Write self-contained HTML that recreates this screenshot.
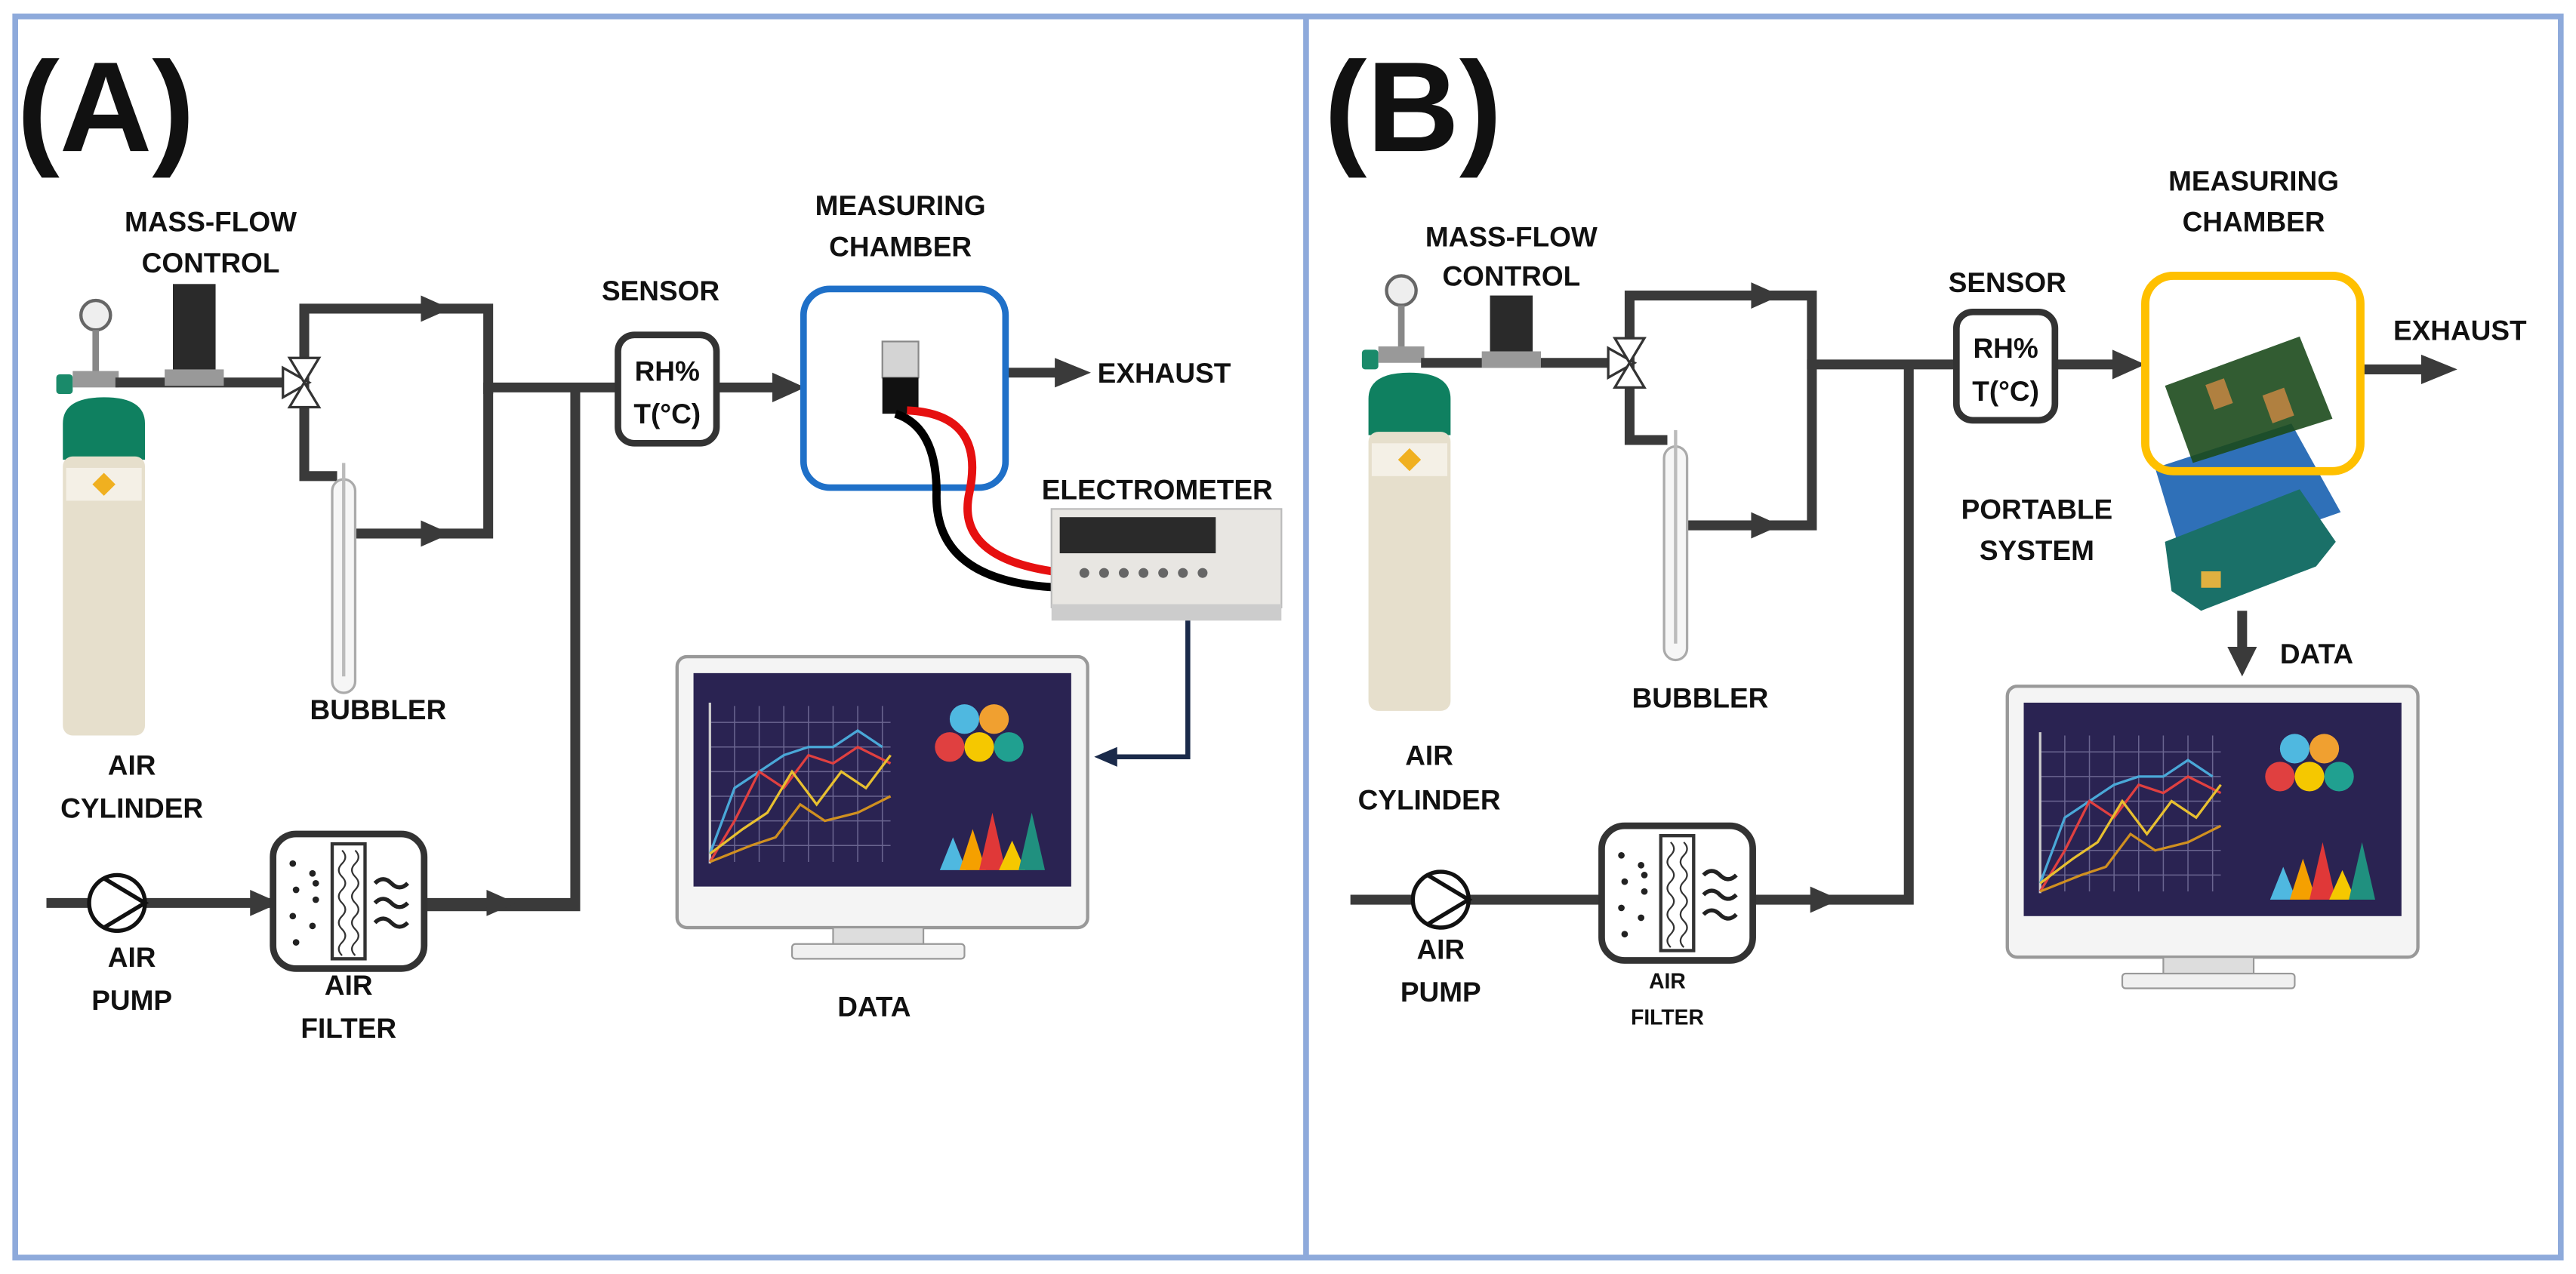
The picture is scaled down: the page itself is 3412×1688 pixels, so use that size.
<!DOCTYPE html>
<html><head><meta charset="utf-8"><style>
html,body{margin:0;padding:0;background:#fff;}
svg{display:block;}
text{font-family:"Liberation Sans",sans-serif;font-weight:bold;fill:#111;}
</style></head><body>
<svg width="3412" height="1688" viewBox="0 0 1568 776" xmlns="http://www.w3.org/2000/svg">
<defs>
<g id="mon">
 <rect x="0" y="0" width="250" height="165" rx="6" fill="#f4f4f4" stroke="#999" stroke-width="2"/>
 <rect x="10" y="10" width="230" height="130" fill="#2a2352"/>
 <rect x="95" y="165" width="55" height="12" fill="#ddd" stroke="#999"/>
 <rect x="70" y="175" width="105" height="9" rx="2" fill="#f0f0f0" stroke="#999"/>
 <g stroke="#6a6590" stroke-width="0.7">
  <line x1="20" y1="40" x2="130" y2="40"/><line x1="20" y1="55" x2="130" y2="55"/><line x1="20" y1="70" x2="130" y2="70"/><line x1="20" y1="85" x2="130" y2="85"/><line x1="20" y1="100" x2="130" y2="100"/><line x1="20" y1="115" x2="130" y2="115"/>
  <line x1="35" y1="30" x2="35" y2="125"/><line x1="50" y1="30" x2="50" y2="125"/><line x1="65" y1="30" x2="65" y2="125"/><line x1="80" y1="30" x2="80" y2="125"/><line x1="95" y1="30" x2="95" y2="125"/><line x1="110" y1="30" x2="110" y2="125"/><line x1="125" y1="30" x2="125" y2="125"/>
 </g>
 <line x1="20" y1="28" x2="20" y2="126" stroke="#ccc" stroke-width="1.5"/>
 <polyline fill="none" stroke="#4aa8d8" stroke-width="1.5" points="20,120 35,80 50,70 65,60 80,55 95,55 110,45 125,55"/>
 <polyline fill="none" stroke="#e04040" stroke-width="1.5" points="20,125 35,100 50,70 65,80 80,60 95,65 110,55 130,65"/>
 <polyline fill="none" stroke="#e8c030" stroke-width="1.5" points="20,120 40,105 55,95 70,70 85,90 100,70 115,80 130,60"/>
 <polyline fill="none" stroke="#d09020" stroke-width="1.5" points="20,125 45,115 60,110 75,90 90,100 110,95 130,85"/>
 <circle cx="175" cy="38" r="9" fill="#4fb8e0"/><circle cx="193" cy="38" r="9" fill="#f0a030"/>
 <circle cx="166" cy="55" r="9" fill="#e04040"/><circle cx="184" cy="55" r="9" fill="#f5c800"/><circle cx="202" cy="55" r="9" fill="#20a090"/>
 <polygon points="160,130 168,110 176,130" fill="#4fb8e0"/><polygon points="172,130 180,105 188,130" fill="#f5a000"/>
 <polygon points="184,130 192,95 200,130" fill="#e03838"/><polygon points="196,130 204,112 212,130" fill="#f5c800"/>
 <polygon points="208,130 216,95 224,130" fill="#20907f"/>
</g>
<g id="cyl">
 <circle cx="20" cy="-48" r="9" fill="#eee" stroke="#666" stroke-width="2"/>
 <rect x="18" y="-39" width="4" height="26" fill="#888"/>
 <rect x="-4" y="-12" width="10" height="12" rx="2" fill="#1a8a6a"/>
 <rect x="6" y="-14" width="28" height="10" fill="#999"/>
 <path d="M0,18 Q0,2 25,2 Q50,2 50,18 L50,40 L0,40 Z" fill="#0f8060"/>
 <rect x="0" y="38" width="50" height="170" rx="6" fill="#e6dfcc"/>
 <rect x="2" y="45" width="46" height="20" fill="#f4f0e6"/>
 <polygon points="18,55 25,48 32,55 25,62" fill="#f0b020"/>
</g>
<g id="filt">
 <rect x="0" y="0" width="92" height="82" rx="14" fill="#fff" stroke="#333" stroke-width="4"/>
 <rect x="36" y="6" width="20" height="70" fill="#fff" stroke="#333" stroke-width="2"/>
 <path d="M42,10 q4,4 0,8 q-4,4 0,8 q4,4 0,8 q-4,4 0,8 q4,4 0,8 q-4,4 0,8 q4,4 0,8 q-4,4 0,8" fill="none" stroke="#333"/>
 <path d="M50,10 q4,4 0,8 q-4,4 0,8 q4,4 0,8 q-4,4 0,8 q4,4 0,8 q-4,4 0,8 q4,4 0,8 q-4,4 0,8" fill="none" stroke="#333"/>
 <g fill="#222"><circle cx="12" cy="18" r="2"/><circle cx="24" cy="24" r="2"/><circle cx="14" cy="34" r="2"/><circle cx="26" cy="40" r="2"/><circle cx="12" cy="50" r="2"/><circle cx="24" cy="56" r="2"/><circle cx="14" cy="66" r="2"/><circle cx="26" cy="30" r="2"/></g>
 <path d="M62,30 q5,-5 10,0 t10,0 M62,42 q5,-5 10,0 t10,0 M62,54 q5,-5 10,0 t10,0" fill="none" stroke="#222" stroke-width="2.5"/>
</g>
<g id="bub">
 <rect x="-7" y="0" width="14" height="130" rx="7" fill="#f6f6f6" stroke="#aaa" stroke-width="1.5"/>
 <line x1="0" y1="-10" x2="0" y2="120" stroke="#bbb" stroke-width="2"/>
</g>
</defs>

<rect x="0" y="0" width="1568" height="776" fill="#fff"/>
<rect x="9" y="10" width="1550" height="756" fill="none" stroke="#8eaadb" stroke-width="3.5"/>
<line x1="795" y1="10" x2="795" y2="766" stroke="#8eaadb" stroke-width="3.5"/>

<!-- ============ PANEL A ============ -->
<text x="10" y="92" font-size="78">(A)</text>
<text x="128" y="141" font-size="17" text-anchor="middle">MASS-FLOW</text>
<text x="128" y="166" font-size="17" text-anchor="middle">CONTROL</text>

<use href="#cyl" x="38" y="240"/>
<g stroke="#3a3a3a" stroke-width="6" fill="none">
 <line x1="70" y1="233" x2="178" y2="233"/>
 <polyline points="185,233 185,188 297,188 297,240"/>
 <polyline points="185,233 185,290 205,290"/>
 <polyline points="215,325 297,325 297,236 378,236"/>
 <polyline points="350,236 350,552 230,552"/>
 <line x1="28" y1="550" x2="166" y2="550"/>
 <line x1="258" y1="550" x2="350" y2="550"/>
 <line x1="437" y1="236" x2="480" y2="236"/>
 <line x1="612" y1="227" x2="650" y2="227"/>
</g>
<rect x="105" y="173" width="26" height="56" fill="#2a2a2a"/>
<rect x="100" y="225" width="36" height="10" fill="#999"/>
<polygon points="172,224 188,233 172,242" fill="#fff" stroke="#333" stroke-width="1.5"/>
<polygon points="176,218 194,218 185,233" fill="#fff" stroke="#333" stroke-width="1.5"/>
<polygon points="176,248 194,248 185,233" fill="#fff" stroke="#333" stroke-width="1.5"/>
<use href="#bub" x="209" y="292"/>
<g fill="#3a3a3a">
 <polygon points="256,180 274,188 256,196"/>
 <polygon points="256,317 274,325 256,333"/>
 <polygon points="152,542 170,550 152,558"/>
 <polygon points="296,542 314,550 296,558"/>
 <polygon points="470,227 490,236 470,245"/>
 <polygon points="642,218 664,227 642,236"/>
</g>
<circle cx="71" cy="550" r="17" fill="#fff" stroke="#111" stroke-width="2.5"/>
<polyline points="63,535 88,550 63,565" fill="none" stroke="#111" stroke-width="2.5"/>
<use href="#filt" x="166" y="508"/>
<text x="230" y="438" font-size="17" text-anchor="middle">BUBBLER</text>
<text x="80" y="472" font-size="17" text-anchor="middle">AIR</text>
<text x="80" y="498" font-size="17" text-anchor="middle">CYLINDER</text>
<text x="80" y="589" font-size="17" text-anchor="middle">AIR</text>
<text x="80" y="615" font-size="17" text-anchor="middle">PUMP</text>
<text x="212" y="606" font-size="17" text-anchor="middle">AIR</text>
<text x="212" y="632" font-size="17" text-anchor="middle">FILTER</text>

<rect x="376" y="204" width="60" height="66" rx="10" fill="#fff" stroke="#333" stroke-width="4"/>
<text x="406" y="232" font-size="17" text-anchor="middle">RH%</text>
<text x="406" y="258" font-size="17" text-anchor="middle">T(°C)</text>
<text x="402" y="183" font-size="17" text-anchor="middle">SENSOR</text>
<text x="548" y="131" font-size="17" text-anchor="middle">MEASURING</text>
<text x="548" y="156" font-size="17" text-anchor="middle">CHAMBER</text>
<rect x="489" y="176" width="123" height="121" rx="16" fill="#fff" stroke="#1f70c8" stroke-width="4"/>
<rect x="537" y="208" width="22" height="22" fill="#d4d4d4" stroke="#888"/>
<rect x="537" y="230" width="22" height="22" fill="#111"/>
<path d="M552,250 Q600,252 590,300 Q580,345 660,350" fill="none" stroke="#e61010" stroke-width="5"/>
<path d="M545,252 Q570,260 570,300 Q568,360 660,358" fill="none" stroke="#000" stroke-width="5"/>
<text x="668" y="233" font-size="17">EXHAUST</text>
<text x="634" y="304" font-size="17">ELECTROMETER</text>
<rect x="640" y="310" width="140" height="60" fill="#e8e6e2" stroke="#bbb"/>
<rect x="645" y="315" width="95" height="22" fill="#2a2a2a"/>
<rect x="640" y="368" width="140" height="10" fill="#ccc"/>
<g fill="#666"><circle cx="660" cy="349" r="3"/><circle cx="672" cy="349" r="3"/><circle cx="684" cy="349" r="3"/><circle cx="696" cy="349" r="3"/><circle cx="708" cy="349" r="3"/><circle cx="720" cy="349" r="3"/><circle cx="732" cy="349" r="3"/></g>
<polyline points="723,378 723,461 676,461" fill="none" stroke="#1a2a4a" stroke-width="3"/>
<polygon points="680,455 666,461 680,467" fill="#1a2a4a"/>
<use href="#mon" x="412" y="400"/>
<text x="532" y="619" font-size="17" text-anchor="middle">DATA</text>

<!-- ============ PANEL B ============ -->
<text x="806" y="92" font-size="78">(B)</text>
<text x="920" y="150" font-size="17" text-anchor="middle">MASS-FLOW</text>
<text x="920" y="174" font-size="17" text-anchor="middle">CONTROL</text>
<use href="#cyl" x="833" y="225"/>
<g stroke="#3a3a3a" stroke-width="6" fill="none">
 <line x1="865" y1="221" x2="984" y2="221"/>
 <polyline points="992,221 992,180 1103,180 1103,225"/>
 <polyline points="992,221 992,268 1015,268"/>
 <polyline points="1025,320 1103,320 1103,222 1192,222"/>
 <polyline points="1162,222 1162,548 1060,548"/>
 <line x1="822" y1="548" x2="975" y2="548"/>
 <line x1="1252" y1="222" x2="1295" y2="222"/>
 <line x1="1437" y1="225" x2="1478" y2="225"/>
 <line x1="1365" y1="372" x2="1365" y2="398"/>
</g>
<rect x="907" y="180" width="26" height="38" fill="#2a2a2a"/>
<rect x="902" y="214" width="36" height="10" fill="#999"/>
<polygon points="979,212 995,221 979,230" fill="#fff" stroke="#333" stroke-width="1.5"/>
<polygon points="983,206 1001,206 992,221" fill="#fff" stroke="#333" stroke-width="1.5"/>
<polygon points="983,236 1001,236 992,221" fill="#fff" stroke="#333" stroke-width="1.5"/>
<use href="#bub" x="1020" y="272"/>
<g fill="#3a3a3a">
 <polygon points="1066,172 1084,180 1066,188"/>
 <polygon points="1066,312 1084,320 1066,328"/>
 <polygon points="1102,540 1120,548 1102,556"/>
 <polygon points="1286,213 1306,222 1286,231"/>
 <polygon points="1474,216 1496,225 1474,234"/>
 <polygon points="1356,394 1374,394 1365,412"/>
</g>
<circle cx="877" cy="548" r="17" fill="#fff" stroke="#111" stroke-width="2.5"/>
<polyline points="869,533 894,548 869,563" fill="none" stroke="#111" stroke-width="2.5"/>
<use href="#filt" x="975" y="503"/>
<text x="1035" y="431" font-size="17" text-anchor="middle">BUBBLER</text>
<text x="870" y="466" font-size="17" text-anchor="middle">AIR</text>
<text x="870" y="493" font-size="17" text-anchor="middle">CYLINDER</text>
<text x="877" y="584" font-size="17" text-anchor="middle">AIR</text>
<text x="877" y="610" font-size="17" text-anchor="middle">PUMP</text>
<text x="1015" y="602" font-size="13" text-anchor="middle">AIR</text>
<text x="1015" y="624" font-size="13" text-anchor="middle">FILTER</text>
<rect x="1191" y="190" width="60" height="66" rx="10" fill="#fff" stroke="#333" stroke-width="4"/>
<text x="1221" y="218" font-size="17" text-anchor="middle">RH%</text>
<text x="1221" y="244" font-size="17" text-anchor="middle">T(°C)</text>
<text x="1222" y="178" font-size="17" text-anchor="middle">SENSOR</text>
<text x="1372" y="116" font-size="17" text-anchor="middle">MEASURING</text>
<text x="1372" y="141" font-size="17" text-anchor="middle">CHAMBER</text>
<polygon points="1312,285 1395,258 1425,312 1330,345" fill="#2f70b8"/>
<polygon points="1318,330 1400,298 1422,330 1410,345 1340,372 1322,360" fill="#1a7068"/>
<rect x="1340" y="348" width="12" height="10" fill="#e0b040"/>
<rect x="1306" y="168" width="131" height="119" rx="17" fill="none" stroke="#ffc000" stroke-width="5"/>
<polygon points="1318,235 1400,205 1420,255 1335,282" fill="#1c4a1c" opacity="0.9"/>
<rect x="1345" y="232" width="12" height="16" fill="#b08040" transform="rotate(-20 1351 240)"/>
<rect x="1380" y="238" width="14" height="18" fill="#b08040" transform="rotate(-20 1387 247)"/>
<text x="1457" y="207" font-size="17">EXHAUST</text>
<text x="1240" y="316" font-size="17" text-anchor="middle">PORTABLE</text>
<text x="1240" y="341" font-size="17" text-anchor="middle">SYSTEM</text>
<text x="1388" y="404" font-size="17">DATA</text>
<use href="#mon" x="1222" y="418"/>
</svg>
</body></html>
